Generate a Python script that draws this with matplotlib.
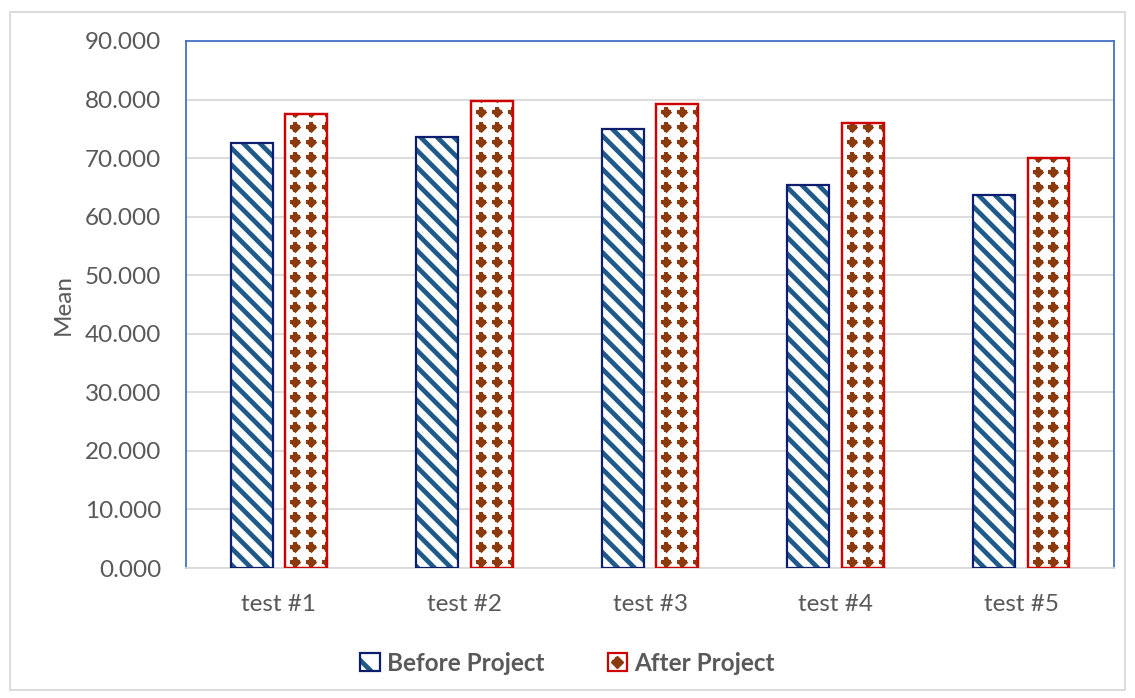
import matplotlib
matplotlib.use("Agg")
import matplotlib.pyplot as plt
import numpy as np
from matplotlib.patches import Patch, Rectangle
from matplotlib.lines import Line2D
from matplotlib.legend_handler import HandlerBase

categories = ["test #1", "test #2", "test #3", "test #4", "test #5"]
before = [72.6, 73.6, 75.0, 65.4, 63.7]
after = [77.5, 79.7, 79.2, 76.0, 70.0]
yticks = [0, 10, 20, 30, 40, 50, 60, 70, 80, 90]

BLUE_HATCH = '#1F5A8A'
NAVY = '#0E1E6E'
RED = '#D00000'
BROWN = '#8B3A0E'
TXT = '#595959'

plt.rcParams['font.family'] = ['Lato', 'DejaVu Sans']
plt.rcParams['hatch.linewidth'] = 3.4

fig = plt.figure(figsize=(11.35, 6.98), dpi=100)
ax = fig.add_axes([0.1639, 0.1862, 0.8176, 0.7551])

x = np.arange(len(categories))
w = 0.226
off = 0.147
# hatched fill of "before" bars
ax.bar(x - off, before, w, color='white', edgecolor=BLUE_HATCH, linewidth=0,
       hatch='\\\\', zorder=3)
ax.bar(x - off, before, w, color='none', edgecolor=NAVY, linewidth=1.6, zorder=4)

bars_a = ax.bar(x + off, after, w, color='white', edgecolor=RED, linewidth=1.6, zorder=3)

# diamond pattern inside the "after" bars
dx = 0.086
dy = 2.56
for i, v in enumerate(after):
    xs = np.arange(x[i] + off - w / 2 + 0.054, x[i] + off + w / 2 + dx, dx)
    ys = np.arange(1.0, v + dy, dy)
    X, Y = np.meshgrid(xs, ys)
    sc = ax.scatter(X.ravel(), Y.ravel(), marker='D', s=34, color=BROWN, linewidths=0, zorder=3.5)
    sc.set_clip_path(bars_a[i])
    sc2 = ax.scatter(X.ravel(), Y.ravel(), marker='P', s=44, color=BROWN, linewidths=0, zorder=3.5)
    sc2.set_clip_path(bars_a[i])
ax.bar(x + off, after, w, color='none', edgecolor=RED, linewidth=1.6, zorder=4)

ax.set_xlim(-0.5, len(categories) - 0.5)
ax.set_ylim(0, 90)
ax.set_yticks(yticks)
ax.set_yticklabels([f"{t:.3f}" for t in yticks])
ax.set_xticks(x)
ax.set_xticklabels(categories)
ax.tick_params(axis='both', length=0, labelsize=17.5, colors=TXT)
ax.tick_params(axis='x', pad=19)
ax.tick_params(axis='y', pad=18)
ax.grid(axis='y', color='#D9D9D9', linewidth=1.3, zorder=0)
ax.set_axisbelow(True)
for s in ['left', 'top', 'right']:
    ax.spines[s].set_color('#4472C4')
    ax.spines[s].set_linewidth(1.3)
ax.spines['bottom'].set_color('#D9D9D9')
ax.spines['bottom'].set_linewidth(1.3)
ax.set_ylabel("Mean", fontsize=17.5, color=TXT, labelpad=8)


class AfterHandler(HandlerBase):
    def create_artists(self, legend, orig_handle, xdescent, ydescent, width, height,
                       fontsize, trans):
        r = Rectangle((-xdescent, -ydescent), width, height, facecolor='white',
                      edgecolor=RED, linewidth=1.6, transform=trans)
        m = Line2D([-xdescent + width / 2], [-ydescent + height / 2], marker='D',
                   linestyle='none', color=BROWN, markersize=6.5, transform=trans)
        m2 = Line2D([-xdescent + width / 2], [-ydescent + height / 2], marker='P',
                    linestyle='none', color=BROWN, markersize=7, markeredgewidth=0,
                    transform=trans)
        return [r, m, m2]


class BeforeHandler(HandlerBase):
    def create_artists(self, legend, orig_handle, xdescent, ydescent, width, height,
                       fontsize, trans):
        r1 = Rectangle((-xdescent, -ydescent), width, height, facecolor='white',
                       edgecolor=BLUE_HATCH, linewidth=0, hatch='\\', transform=trans)
        r2 = Rectangle((-xdescent, -ydescent), width, height, facecolor='none',
                       edgecolor=NAVY, linewidth=1.6, transform=trans)
        return [r1, r2]


hb = Patch()
ha = Line2D([], [])
leg = fig.legend([hb, ha], ["Before Project", "After Project"],
                 handler_map={hb: BeforeHandler(), ha: AfterHandler()},
                 loc='center', bbox_to_anchor=(0.5, 0.05), ncol=2, frameon=False,
                 prop={'weight': 'bold', 'size': 17.5}, handlelength=0.8, handleheight=0.8,
                 columnspacing=2.6, handletextpad=0.3)
for t in leg.get_texts():
    t.set_color(TXT)

fig.patches.append(Rectangle((10 / 1135, 1 - 690 / 698), 1115 / 1135, 678 / 698,
                             transform=fig.transFigure, fill=False, edgecolor='#D9D9D9',
                             linewidth=1.3))

fig.savefig("out.png", dpi=100)
